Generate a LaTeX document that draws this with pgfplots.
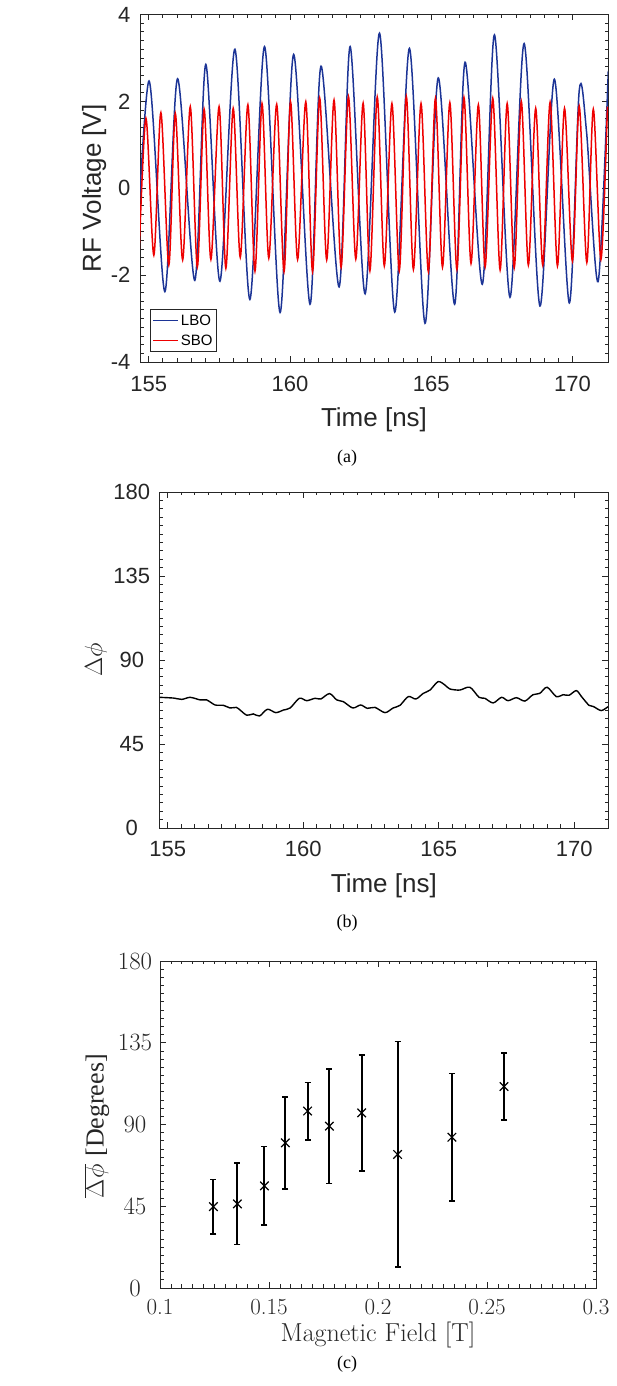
\documentclass[border=0pt]{standalone}
\usepackage{pgfplots}
\pgfplotsset{compat=1.18}
\usepackage{fontspec}
\newfontfamily\arialfont{Liberation Sans}
\newfontfamily\timesfont{Liberation Serif}
\definecolor{lbo}{RGB}{28,52,150}
\definecolor{sbo}{RGB}{238,0,0}
\definecolor{axgray}{RGB}{38,38,38}
\begin{document}
\begin{tikzpicture}
\useasboundingbox (0,0) rectangle (616pt,1386pt);
\pgfplotsset{
  matstyle/.style={
    scale only axis, anchor=south west,
    axis line style={draw=axgray, line width=0.9pt},
    every tick/.style={draw=axgray, line width=0.8pt},
    major tick length=6pt, minor tick length=3.5pt,
    minor x tick num=9, minor y tick num=9,
    tick align=inside,
    ticklabel style={text=axgray},
  },
  sansticks/.style={
    /pgf/number format/assume math mode=true,
    tick label style={font=\arialfont\fontsize{22}{26}\selectfont},
    label style={font=\arialfont\fontsize{26}{30}\selectfont, text=axgray},
  },
}
% ---------------- (a) ----------------
\begin{axis}[matstyle, sansticks,
  at={(140pt,1024pt)}, width=468pt, height=347.5pt,
  xmin=154.69, xmax=171.26, ymin=-4, ymax=4,
  xtick={155,160,165,170}, ytick={-4,-2,0,2,4},
  xticklabel style={anchor=center, yshift=-22pt},
  yticklabel style={anchor=east, xshift=-6pt},
  xlabel={Time [ns]}, ylabel={RF Voltage [V]},
  xlabel style={at={(axis description cs:0.5,-0.167)}, anchor=center},
  ylabel style={at={(axis description cs:-0.098,0.5)}, anchor=center},
  legend style={at={(axis description cs:0.0214,0.029)}, anchor=south west,
    draw=axgray, line width=0.8pt, font=\arialfont\fontsize{15}{17}\selectfont,
    inner xsep=2pt, inner ysep=3pt, row sep=4pt, cells={anchor=west}},
  legend image code/.code={\draw[#1, line width=1.5pt] (0pt,0pt) -- (25pt,0pt);},
]
\addplot[lbo, line width=1.5pt, smooth] coordinates {
(154.51,-2.30) (155.01,2.47) (155.57,-2.38) (156.02,2.52) (156.63,-2.12)
(157.02,2.85) (157.52,-2.14) (158.05,3.20) (158.58,-2.56) (159.10,3.26)
(159.65,-2.86) (160.13,3.08) (160.71,-2.67) (161.10,2.81) (161.74,-2.27)
(162.13,3.26) (162.66,-2.43) (163.17,3.57) (163.71,-2.85) (164.23,3.22)
(164.78,-3.11) (165.25,2.54) (165.83,-2.67) (166.20,2.90) (166.81,-2.21)
(167.24,3.53) (167.79,-2.51) (168.29,3.33) (168.85,-2.71) (169.36,2.51)
(169.89,-2.64) (170.24,2.24) (170.50,1.30) (170.91,-2.15) (171.27,2.70)
};
\addlegendentry{LBO}
\addplot[sbo, line width=1.5pt, smooth] coordinates {
(154.65,-1.65) (154.90,1.61) (155.18,-1.54) (155.43,1.74) (155.71,-1.77)
(155.94,1.72) (156.20,-1.65) (156.47,1.88) (156.72,-1.81) (156.96,1.82)
(157.20,-1.64) (157.49,1.88) (157.73,-1.84) (157.99,1.84) (158.24,-1.59)
(158.51,1.92) (158.76,-1.91) (159.01,1.95) (159.25,-1.61) (159.53,1.93)
(159.79,-1.92) (160.02,1.99) (160.27,-1.64) (160.56,1.99) (160.80,-1.92)
(161.05,2.08) (161.30,-1.65) (161.56,2.03) (161.81,-1.82) (162.07,2.11)
(162.33,-1.63) (162.59,1.96) (162.83,-1.90) (163.09,2.10) (163.34,-1.79)
(163.61,1.95) (163.87,-1.90) (164.12,2.11) (164.37,-1.87) (164.64,1.95)
(164.90,-1.92) (165.15,2.07) (165.40,-1.82) (165.66,1.97) (165.91,-1.87)
(166.16,2.09) (166.41,-1.73) (166.67,1.92) (166.91,-1.81) (167.18,2.07)
(167.44,-1.88) (167.69,1.95) (167.94,-1.83) (168.19,2.00) (168.44,-1.77)
(168.70,1.84) (168.95,-1.77) (169.21,1.98) (169.47,-1.79) (169.72,1.84)
(170.00,-1.68) (170.24,1.89) (170.51,-1.71) (170.74,1.82) (171.01,-1.64)
(171.24,1.88)
};
\addlegendentry{SBO}
\end{axis}
% ---------------- (b) ----------------
\begin{axis}[matstyle, sansticks,
  at={(159.3pt,558pt)}, width=449pt, height=336pt,
  xmin=154.69, xmax=171.26, ymin=0, ymax=180,
  xtick={155,160,165,170}, ytick={0,45,90,135,180},
  xticklabel style={anchor=center, yshift=-21pt},
  yticklabel style={anchor=center, xshift=-27.5pt},
  xlabel={Time [ns]}, ylabel={$\Delta\phi$},
  xlabel style={at={(axis description cs:0.5,-0.173)}, anchor=center},
  ylabel style={at={(axis description cs:-0.141,0.5)}, anchor=center},
]
\addplot[black, line width=1.4pt, smooth] coordinates {
(154.70,70.0) (155.22,69.6) (155.52,68.9) (155.83,70.0) (156.20,68.6)
(156.44,68.6) (156.75,65.9) (157.06,65.7) (157.30,64.3) (157.53,64.6)
(157.67,63.2) (157.92,60.4) (158.16,61.1) (158.39,60.0) (158.68,63.6)
(158.99,61.8) (159.27,63.2) (159.52,64.3) (159.86,69.5) (160.13,68.2)
(160.44,69.5) (160.65,69.1) (160.97,72.0) (161.24,68.6) (161.48,67.7)
(161.83,64.3) (162.12,65.9) (162.37,64.1) (162.65,64.6) (163.02,61.8)
(163.32,64.3) (163.57,65.7) (163.88,70.4) (164.16,69.1) (164.43,72.1)
(164.68,73.9) (164.98,78.4) (165.23,76.6) (165.41,74.5) (165.78,73.9)
(166.15,75.4) (166.49,70.0) (166.70,69.5) (167.01,67.0) (167.32,70.0)
(167.56,68.2) (167.87,69.8) (168.18,68.0) (168.48,71.4) (168.73,72.1)
(169.00,75.4) (169.34,70.4) (169.59,71.4) (169.81,71.1) (170.08,73.6)
(170.27,70.4) (170.55,65.7) (170.72,65.0) (171.00,62.9) (171.25,65.0)
};
\end{axis}
% ---------------- (c) ----------------
\begin{axis}[matstyle,
  at={(160pt,98pt)}, width=436pt, height=327pt,
  xmin=0.1, xmax=0.3, ymin=0, ymax=180,
  xtick={0.1,0.15,0.2,0.25,0.3}, ytick={0,45,90,135,180},
  xticklabels={0.1,0.15,0.2,0.25,0.3},
  tick label style={font=\fontsize{23}{27}\selectfont},
  xticklabel style={anchor=center, yshift=-19pt},
  yticklabel style={anchor=center, xshift=-25pt},
  label style={font=\fontsize{26}{30}\selectfont, text=axgray},
  xlabel={Magnetic Field [T]},
  ylabel={$\overline{\Delta\phi}$ {\timesfont [Degrees]}},
  xlabel style={at={(axis description cs:0.5,-0.144)}, anchor=center},
  ylabel style={at={(axis description cs:-0.145,0.495)}, anchor=center},
]
\addplot[black, only marks, mark=x, mark size=6pt, mark options={line width=1.2pt},
  error bars/.cd, y dir=both, y explicit,
  error bar style={line width=1.9pt, black},
  error mark options={rotate=90, line width=1.6pt, mark size=3pt, black}]
coordinates {
(0.1245,44.8) +- (0,15.0)
(0.1355,46.3) +- (0,22.4)
(0.1479,56.2) +- (0,21.6)
(0.1575,79.9) +- (0,25.3)
(0.1677,97.4) +- (0,15.8)
(0.1777,89.1) +- (0,31.5)
(0.1925,96.4) +- (0,32.0)
(0.2090,73.5) +- (0,62.1)
(0.2339,83.0) +- (0,35.1)
(0.2578,110.9) +- (0,18.3)
};
\end{axis}
% captions
\node[font=\timesfont\fontsize{18}{21}\selectfont] at (347pt,928pt) {(a)};
\node[font=\timesfont\fontsize{18}{21}\selectfont] at (347pt,463pt) {(b)};
\node[font=\timesfont\fontsize{18}{21}\selectfont] at (347pt,22pt) {(c)};
\end{tikzpicture}
\end{document}
